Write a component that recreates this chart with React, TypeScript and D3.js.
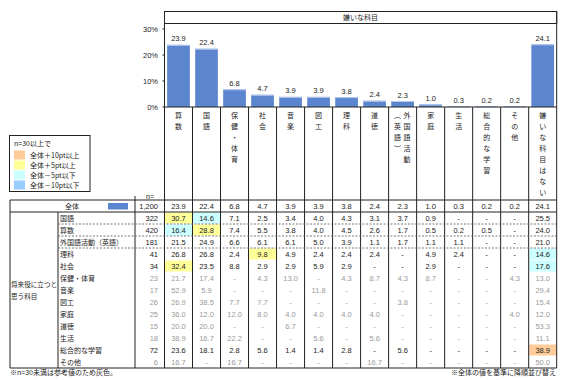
import React from "react";
import * as d3 from "d3";

const header = "嫌いな科目";
const categories = ["算数", "国語", "保健・体育", "社会", "音楽", "図工", "理科", "道徳", "外国語活動（英語）", "家庭", "生活", "総合的な学習", "その他", "嫌いな科目はない"];
const totalLabel = "全体";
const totalN = 1200;
const totals = [23.9, 22.4, 6.8, 4.7, 3.9, 3.9, 3.8, 2.4, 2.3, 1.0, 0.3, 0.2, 0.2, 24.1];
const yTicks = [0, 10, 20, 30];

const groupLabel = ["将来役に立つと", "思う科目"];
const rowLabels = ["国語", "算数", "外国語活動（英語）", "理科", "社会", "保健・体育", "音楽", "図工", "家庭", "道徳", "生活", "総合的な学習", "その他"];
const rowN = [322, 420, 181, 41, 34, 23, 17, 26, 25, 15, 18, 72, 6];
const N = null;
const rowValues: (number | null)[][] = [
  [30.7, 14.6, 7.1, 2.5, 3.4, 4.0, 4.3, 3.1, 3.7, 0.9, N, N, N, 25.5],
  [16.4, 28.8, 7.4, 5.5, 3.8, 4.0, 4.5, 2.6, 1.7, 0.5, 0.2, 0.5, N, 24.0],
  [21.5, 24.9, 6.6, 6.1, 6.1, 5.0, 3.9, 1.1, 1.7, 1.1, 1.1, N, N, 21.0],
  [26.8, 26.8, 2.4, 9.8, 4.9, 2.4, 2.4, 2.4, N, 4.9, 2.4, N, N, 14.6],
  [32.4, 23.5, 8.8, 2.9, 2.9, 5.9, 2.9, N, N, 2.9, N, N, N, 17.6],
  [21.7, 17.4, N, 4.3, 13.0, N, 4.3, 8.7, 4.3, 8.7, N, N, 4.3, 13.0],
  [52.9, 5.9, N, N, N, 11.8, N, N, N, N, N, N, N, 29.4],
  [26.9, 38.5, 7.7, 7.7, N, N, N, N, 3.8, N, N, N, N, 15.4],
  [36.0, 12.0, 12.0, 8.0, 4.0, 4.0, 4.0, 4.0, N, N, N, N, 4.0, 12.0],
  [20.0, 20.0, N, N, 6.7, N, N, N, N, N, N, N, N, 53.3],
  [38.9, 16.7, 22.2, N, N, 5.6, N, 5.6, N, N, N, N, N, 11.1],
  [23.6, 18.1, 2.8, 5.6, 1.4, 1.4, 2.8, N, 5.6, N, N, N, N, 38.9],
  [16.7, N, 16.7, N, N, N, N, 16.7, N, N, N, N, N, 50.0],
];
const dashedAfter = [0, 1, 2];

const legendTitle = "n=30以上で";
const legendItems = [
  { label: "全体＋10pt以上", color: "#FFCC99" },
  { label: "全体＋5pt以上", color: "#FFFF99" },
  { label: "全体－5pt以下", color: "#CCFFFF" },
  { label: "全体－10pt以下", color: "#99CCFF" },
];
const noteLeft = "※n=30未満は参考値のため灰色。";
const noteRight = "※全体の値を基準に降順並び替え";

const JP = "'Noto Sans CJK JP', 'Noto Sans', sans-serif";
const NUM = "'Liberation Sans', Arial, sans-serif";
const BAR = "#5B85CE";
const LINE = "#222";

function fmt(v: number | null) {
  return v == null ? "-" : v.toFixed(1);
}
function hl(v: number | null, t: number, n: number) {
  if (n < 30) return null;
  const d = (v ?? 0) - t;
  if (d >= 10) return legendItems[0].color;
  if (d >= 5) return legendItems[1].color;
  if (d <= -10) return legendItems[3].color;
  if (d <= -5) return legendItems[2].color;
  return null;
}
const vert = (s: string) => s.replace("（", "︵").replace("）", "︶");

export default function App() {
  const x0 = 164.5, x1 = 556.7;
  const xCol = d3.scaleBand<string>().domain(categories).range([x0, x1]);
  const x = d3.scaleBand<string>().domain(categories).range([x0, x1]).paddingInner(0.19).paddingOuter(0.095);
  const y = d3.scaleLinear().domain([0, 30]).range([107, 29]);
  const headTop = 11.5, headBot = 23.5, base = y(0);
  const tableTop = 200, totalBot = 212, rowH = 12, tableBot = totalBot + rowH * rowLabels.length;
  const leftX = 10, groupX = 58, nX = 135;
  const rowY = (i: number) => totalBot + rowH * i;

  return (
    <svg width={567} height={380} style={{ position: "absolute", left: 0, top: 0, background: "#fff" }}>
      {/* header */}
      <rect x={x0} y={headTop} width={x1 - x0} height={headBot - headTop} fill="none" stroke={LINE} />
      <text x={(x0 + x1) / 2} y={headBot - 3.5} fontSize={7} fontFamily={JP} textAnchor="middle" fill="#222">{header}</text>
      {/* y axis */}
      {yTicks.map((t) => (
        <g key={t}>
          <line x1={x0 - 2} x2={x0} y1={y(t)} y2={y(t)} stroke={LINE} />
          <text x={158} y={y(t) + 2.5} fontSize={7.5} fontFamily={NUM} textAnchor="end" fill="#222">{t}%</text>
        </g>
      ))}
      {/* bars */}
      {categories.map((c, i) => (
        <g key={c}>
          <rect x={x(c)} y={y(totals[i])} width={x.bandwidth()} height={base - y(totals[i])} fill={BAR} />
          <line x1={x(c)} x2={x(c)! + x.bandwidth()} y1={y(totals[i]) + 0.5} y2={y(totals[i]) + 0.5} stroke="#B9CBEB" />
          <text x={x(c)! + x.bandwidth() / 2} y={y(totals[i]) - 3.5} fontSize={7.5} fontFamily={NUM} textAnchor="middle" fill="#222">{fmt(totals[i])}</text>
        </g>
      ))}
      {/* category labels (vertical) */}
      {categories.map((c) => {
        const cx = xCol(c)! + xCol.bandwidth() / 2;
        const m = c.match(/^(.*?)(（.*）)$/);
        const cols = m ? [m[1], vert(m[2])] : [c];
        return (
          <g key={c}>
            {cols.map((s, ci) => {
              const colX = cols.length === 1 ? cx : cx + (ci === 0 ? 4.5 : -5);
              return Array.from(s).map((ch, k) => (
                <text key={k} x={colX} y={118 + k * 11} fontSize={7} fontFamily={JP} textAnchor="middle" fill="#222">{ch}</text>
              ));
            })}
          </g>
        );
      })}
      <text x={146} y={198.5} fontSize={7} fontFamily={NUM} fill="#222">n=</text>

      {/* highlights */}
      {rowLabels.map((r, ri) =>
        categories.map((c, ci) => {
          const col = hl(rowValues[ri][ci], totals[ci], rowN[ri]);
          return col ? <rect key={r + c} x={xCol(c)! + 0.5} y={rowY(ri) + 0.5} width={xCol.bandwidth() - 1} height={rowH - 1} fill={col} /> : null;
        })
      )}

      {/* table lines */}
      <line x1={x0} x2={x0} y1={headTop} y2={tableBot} stroke={LINE} />
      <line x1={x1} x2={x1} y1={headTop} y2={tableBot} stroke={LINE} />
      <line x1={x0} x2={x1} y1={base} y2={base} stroke={LINE} />
      {categories.slice(1).map((c) => (
        <line key={c} x1={xCol(c)} x2={xCol(c)} y1={base} y2={tableBot} stroke={LINE} />
      ))}
      <line x1={leftX} x2={x1} y1={tableTop} y2={tableTop} stroke={LINE} />
      <line x1={leftX} x2={x1} y1={totalBot} y2={totalBot} stroke={LINE} />
      <line x1={leftX} x2={x1} y1={tableBot} y2={tableBot} stroke={LINE} />
      <line x1={leftX} x2={leftX} y1={tableTop} y2={tableBot} stroke={LINE} />
      <line x1={nX} x2={nX} y1={196} y2={tableBot} stroke={LINE} />
      <line x1={groupX} x2={groupX} y1={totalBot} y2={tableBot} stroke={LINE} />
      {dashedAfter.map((i) => (
        <line key={i} x1={groupX} x2={x1} y1={rowY(i + 1)} y2={rowY(i + 1)} stroke="#555" strokeDasharray="2,1.5" strokeWidth={0.8} />
      ))}

      {/* total row */}
      <text x={72} y={tableTop + 8.5} fontSize={7} fontFamily={JP} textAnchor="middle" fill="#222">{totalLabel}</text>
      <rect x={108} y={tableTop + 3} width={20} height={6.5} fill={BAR} />
      <text x={158} y={tableTop + 8.5} fontSize={7.5} fontFamily={NUM} textAnchor="end" fill="#222">{d3.format(",")(totalN)}</text>
      {categories.map((c, i) => (
        <text key={c} x={xCol(c)! + xCol.bandwidth() / 2} y={tableTop + 8.5} fontSize={7.5} fontFamily={NUM} textAnchor="middle" fill="#222">{fmt(totals[i])}</text>
      ))}

      {/* rows */}
      {rowLabels.map((r, ri) => {
        const gray = rowN[ri] < 30;
        const fill = gray ? "#9a9a9a" : "#222";
        const ty = rowY(ri) + 8.5;
        return (
          <g key={r}>
            <text x={60} y={ty} fontSize={7} fontFamily={JP} fill="#222">{r}</text>
            <text x={158} y={ty} fontSize={7.5} fontFamily={NUM} textAnchor="end" fill={fill}>{rowN[ri]}</text>
            {categories.map((c, ci) => (
              <text key={c} x={xCol(c)! + xCol.bandwidth() / 2} y={ty} fontSize={7.5} fontFamily={NUM} textAnchor="middle" fill={fill}>{fmt(rowValues[ri][ci])}</text>
            ))}
          </g>
        );
      })}
      {groupLabel.map((g, i) => (
        <text key={g} x={11} y={(totalBot + tableBot) / 2 - 3 + i * 12} fontSize={6.6} fontFamily={JP} fill="#222">{g}</text>
      ))}

      {/* legend */}
      <rect x={9.5} y={135.5} width={80.5} height={56} fill="#fff" stroke={LINE} />
      <text x={14} y={146} fontSize={7} fontFamily={JP} fill="#222">{legendTitle}</text>
      {legendItems.map((l, i) => (
        <g key={l.label}>
          <rect x={14} y={150.5 + i * 10} width={11} height={9} fill={l.color} />
          <text x={30} y={157.5 + i * 10} fontSize={7} fontFamily={JP} fill="#222">{l.label}</text>
        </g>
      ))}

      {/* notes */}
      <text x={10} y={375} fontSize={7} fontFamily={JP} fill="#222">{noteLeft}</text>
      <text x={556} y={375} fontSize={7} fontFamily={JP} textAnchor="end" fill="#222">{noteRight}</text>
    </svg>
  );
}
